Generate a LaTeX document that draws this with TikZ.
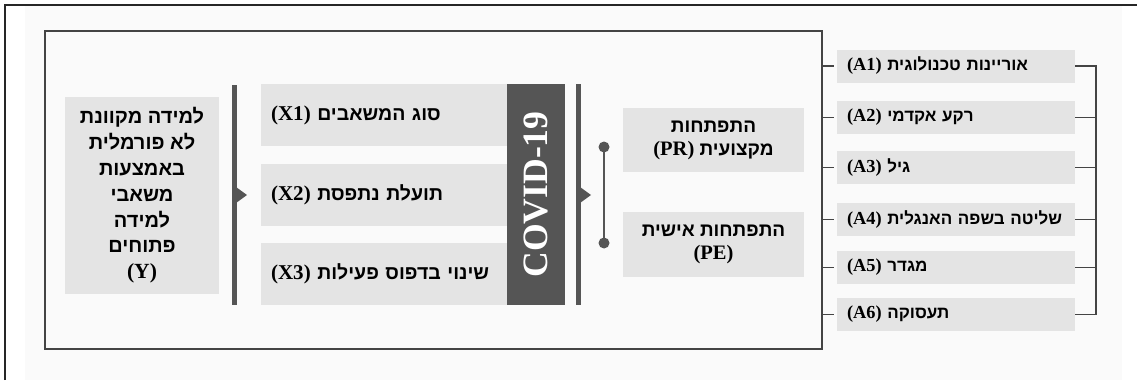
\documentclass[tikz,border=0pt]{standalone}
\usepackage{fontspec}
\newfontfamily\hebfont[Script=Hebrew]{Liberation Sans}
\newfontfamily\latfont[Scale=1.08]{Liberation Serif}
\TeXXeTstate=1
\definecolor{boxgray}{HTML}{E4E4E4}
\definecolor{bargray}{HTML}{555555}
\definecolor{linegray}{HTML}{444444}
\newcommand{\heb}[1]{{\hebfont\bfseries\beginR #1\endR}}
\newcommand{\lat}[1]{\beginL{\latfont\bfseries #1}\endL}
\begin{document}
\begin{tikzpicture}[x=1pt,y=-1pt,
    every node/.style={font=\fontsize{17}{25}\selectfont},
    graybox/.style={fill=boxgray, inner xsep=10pt, inner ysep=0pt, align=left},
    cbox/.style={fill=boxgray, inner sep=0pt, align=center},
    link/.style={draw=linegray, line width=1.5pt}]
    \useasboundingbox (0,0) rectangle (1137,380);
    \fill [black!2] (25,6) rectangle (1122,380);
    \draw [line width=1.5pt, black!85] (5,380) -- (5,5) -- (1137,5);
    \node [draw=linegray, line width=2pt, minimum width=777pt, minimum height=318pt, inner sep=0pt] (frame) at (433.5,190) {};
    % outcome
    \node [cbox, minimum width=154pt, minimum height=197pt, font=\fontsize{20}{25.8}\selectfont] (y) at (142,195.5)
      {\heb{למידה מקוונת}\\\heb{לא פורמלית}\\\heb{באמצעות}\\\heb{משאבי}\\\heb{למידה}\\\heb{פתוחים}\\\lat{(Y)}};
    \draw [bargray, line width=4.5pt] (234.5,85) -- (234.5,305);
    \fill [bargray] (236,187) -- (247,195) -- (236,203) -- cycle;
    % predictors
    \node [graybox, text width=226pt, minimum height=62pt, font=\fontsize{19.5}{25}\selectfont] (x1) at (384,115) {\mbox{\heb{סוג המשאבים \lat{(X1)}}}};
    \node [graybox, text width=226pt, minimum height=62pt, font=\fontsize{19.5}{25}\selectfont] (x2) at (384,195) {\mbox{\heb{תועלת נתפסת \lat{(X2)}}}};
    \node [graybox, text width=226pt, minimum height=62pt, font=\fontsize{19.5}{25}\selectfont] (x3) at (384,274) {\mbox{\heb{שינוי בדפוס פעילות \lat{(X3)}}}};
    \node [fill=bargray, rotate=90, minimum width=221pt, minimum height=58pt, inner sep=0pt, text=white,
      font=\latfont\bfseries\fontsize{33}{33}\selectfont] (covid) at (536,194.5) {COVID-19};
    \draw [bargray, line width=4.5pt] (578.5,84) -- (578.5,305);
    \fill [bargray] (580,187) -- (591,195) -- (580,203) -- cycle;
    % development
    \coordinate (d1) at (604,147);
    \coordinate (d2) at (604,243);
    \draw [bargray, line width=2pt] (d1) -- (d2);
    \fill [bargray] (d1) circle (5.5pt) (d2) circle (5.5pt);
    \node [cbox, minimum width=181pt, minimum height=64pt, font=\fontsize{19}{23}\selectfont] (pr) at (713.5,140)
      {\heb{התפתחות}\\\heb{מקצועית \lat{(PR)}}};
    \node [cbox, minimum width=181pt, minimum height=65pt, font=\fontsize{19}{23}\selectfont] (pe) at (713.5,244.5)
      {\heb{התפתחות אישית}\\\lat{(PE)}};
    % background variables
    \foreach \n/\yy/\txt in {1/66/{אוריינות טכנולוגית},2/117.5/{רקע אקדמי},3/167.5/{גיל},
      4/219.5/{שליטה בשפה האנגלית},5/267.5/{מגדר},6/314.5/{תעסוקה}}
    \node [graybox, text width=218pt, minimum height=33pt] (a\n) at (956,\yy) {\mbox{\heb{\txt\ \lat{(A\n)}}}};
    \foreach \n in {1,...,6}
    \draw [link, shorten >=3pt] (a\n.west -| frame.east) -- (a\n.west);
    \coordinate (brk) at (1096,0);
    \draw [link] (a1.east) -- (a1.east -| brk) -- (a6.east -| brk) -- (a6.east);
    \foreach \n in {2,...,5}
    \draw [link] (a\n.east) -- (a\n.east -| brk);
\end{tikzpicture}
\end{document}
